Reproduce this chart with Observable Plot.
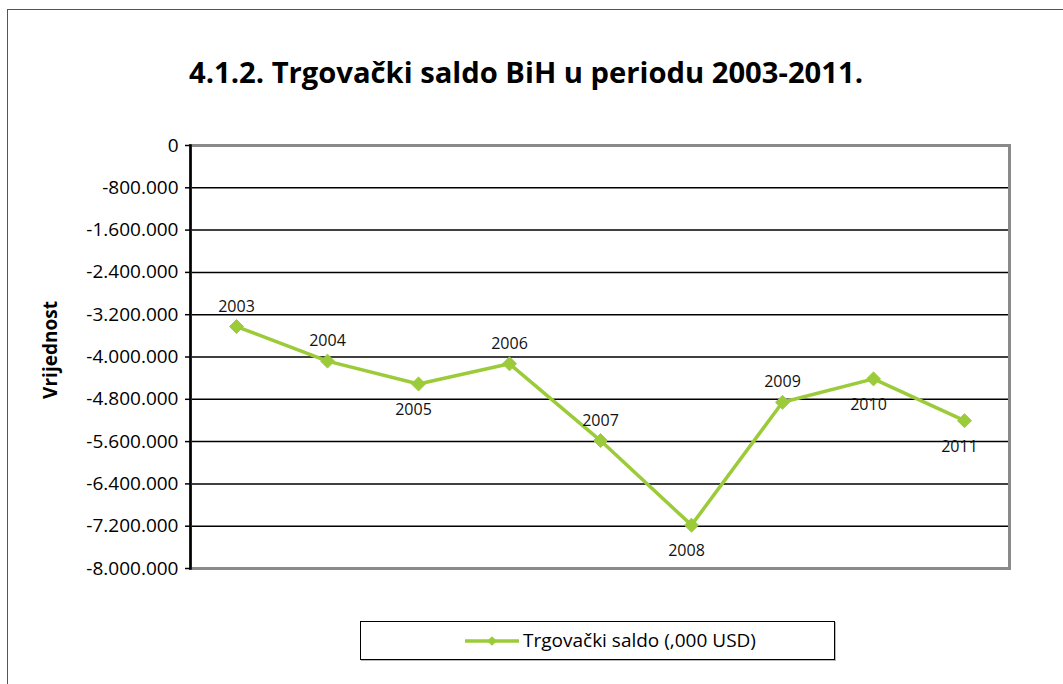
<!DOCTYPE html>
<html>
<head>
<meta charset="utf-8">
<script src="https://cdn.jsdelivr.net/npm/d3@7"></script>
<script src="https://cdn.jsdelivr.net/npm/@observablehq/plot@0.6"></script>
<style>
  html, body { margin: 0; padding: 0; background: #fff; }
  body { width: 1063px; height: 684px; position: relative; overflow: hidden; font-family: "Open Sans", "Noto Sans", sans-serif; }
  #chart { position: absolute; left: 0; top: 0; }
  #frame { position: absolute; left: 7px; top: 9px; width: 1070px; height: 700px; border-left: 1.5px solid #555; border-top: 1.5px solid #555; }
  #title { position: absolute; left: 0; top: 52px; width: 1052px; text-align: center; font-weight: bold; font-size: 29.2px; line-height: 40px; color: #000; }
  #ytitle { position: absolute; left: 50px; top: 350px; transform: translate(-50%, -50%) rotate(-90deg); font-weight: bold; font-size: 19px; white-space: nowrap; }
  #legend { position: absolute; left: 360px; top: 621px; width: 473px; height: 37px; border: 1px solid #000; box-shadow: 1px 1px 0 #bbb; }
  #legend svg { position: absolute; left: 100px; top: 10px; }
  #legend span { position: absolute; left: 162px; top: 5px; font-size: 19px; line-height: 26px; white-space: nowrap; }
</style>
</head>
<body>
<div id="chart"></div>
<div id="frame"></div>
<div id="title">4.1.2. Trgovački saldo BiH u periodu 2003-2011.</div>
<div id="ytitle">Vrijednost</div>
<div id="legend"><svg width="62" height="20"></svg><span>Trgovački saldo (,000 USD)</span></div>
<script>
const years = ["2003", "2004", "2005", "2006", "2007", "2008", "2009", "2010", "2011"];
const saldo = [-3425000, -4078000, -4510000, -4129000, -5580000, -7180000, -4857000, -4414000, -5205000];
const labelSide = ["above", "above", "below", "above", "above", "below", "above", "below", "below"];
const yTicks = [0, -800000, -1600000, -2400000, -3200000, -4000000, -4800000, -5600000, -6400000, -7200000, -8000000];
const seriesName = "Trgovački saldo (,000 USD)";

const green = "#9ccb3a";
const fmt = v => {
  const s = String(Math.abs(v)).replace(/\B(?=(\d{3})+(?!\d))/g, ".");
  return (v < 0 ? "-" : "") + s;
};

const data = years.map((y, i) => ({year: y, value: saldo[i], side: labelSide[i]}));

const chart = Plot.plot({
  width: 1063,
  height: 684,
  marginTop: 145,
  marginBottom: 116,
  marginLeft: 190,
  marginRight: 54,
  x: {type: "point", domain: years, padding: 0.5, axis: null},
  y: {domain: [-8000000, 0]},
  style: {fontFamily: "'Open Sans', 'Noto Sans', sans-serif", fontSize: "18px", color: "#000", background: "transparent"},
  marks: [
    Plot.ruleY(yTicks.slice(1, -1), {stroke: "#000", strokeWidth: 1.5}),
    Plot.frame({stroke: "#8a8a8a", strokeWidth: 3}),
    Plot.frame({anchor: "left", stroke: "#000", strokeWidth: 2.5}),
    Plot.axisY({ticks: yTicks, tickFormat: fmt, tickSize: 5, tickPadding: 7, label: null, stroke: "#000", strokeWidth: 1.5, fontSize: 19}),
    Plot.line(data, {x: "year", y: "value", stroke: green, strokeWidth: 3.5}),
    Plot.dot(data, {x: "year", y: "value", symbol: "diamond2", r: 6.3, fill: green, stroke: green, strokeWidth: 1}),
    Plot.text(data.filter(d => d.side === "above"), {x: "year", y: "value", text: "year", dy: -20, fontSize: 16, fill: "#111"}),
    Plot.text(data.filter(d => d.side === "below"), {x: "year", y: "value", text: "year", dx: -5, dy: 26, fontSize: 16, fill: "#111"})
  ]
});
document.getElementById("chart").appendChild(chart);

// legend swatch drawn with d3
const lg = d3.select("#legend svg");
lg.append("line").attr("x1", 4).attr("x2", 58).attr("y1", 9).attr("y2", 9).attr("stroke", green).attr("stroke-width", 3.5);
lg.append("path").attr("d", d3.symbol(d3.symbolDiamond2, 60)()).attr("transform", "translate(31,9)").attr("fill", green);
document.querySelector("#legend span").textContent = seriesName;
</script>
</body>
</html>
